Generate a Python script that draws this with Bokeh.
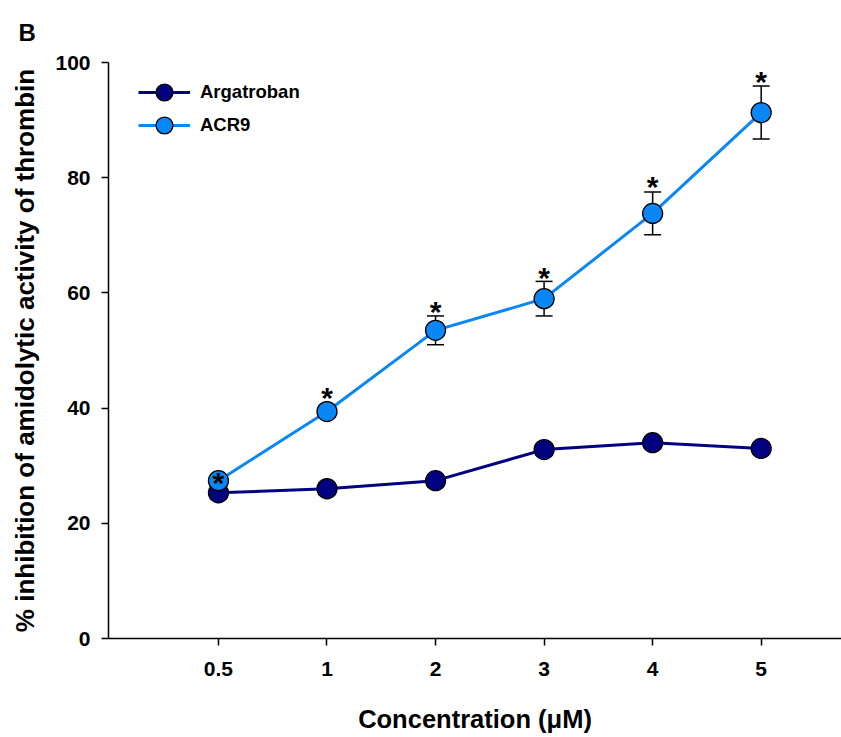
from bokeh.plotting import figure
from bokeh.models import (ColumnDataSource, Whisker, TeeHead, FixedTicker, Range1d,
                          Legend, Title)
from bokeh.core.properties import value
from bokeh.embed import file_html
from bokeh.resources import INLINE

# ---- data ----
conc_labels = ["0.5", "1", "2", "3", "4", "5"]
argatroban = [25.3, 26.0, 27.4, 32.8, 34.0, 33.0]
argatroban_err = [1.0, 1.0, 1.0, 1.0, 1.0, 1.0]
acr9 = [27.4, 39.4, 53.5, 59.0, 73.8, 91.3]
acr9_err = [1.0, 1.0, 2.5, 3.0, 3.7, 4.6]
star_y = [27.8, 42.5, 57.5, 63.4, 79.2, 97.4]
y_ticks = [0, 20, 40, 60, 80, 100]
series_names = ["Argatroban", "ACR9"]

FONT = "Liberation Sans"
NAVY = "#000080"
BLUE = "#0a87f7"

xs = list(range(len(conc_labels)))

p = figure(width=841, height=737, output_backend="svg", toolbar_location=None,
           x_range=Range1d(-1.013, 5.74), y_range=Range1d(0, 100),
           min_border_left=108, min_border_right=0, min_border_top=62,
           min_border_bottom=99)
p.outline_line_color = None
p.xgrid.visible = False
p.ygrid.visible = False

src_a = ColumnDataSource(dict(x=xs, y=argatroban,
                              lo=[v - e for v, e in zip(argatroban, argatroban_err)],
                              hi=[v + e for v, e in zip(argatroban, argatroban_err)]))
src_b = ColumnDataSource(dict(x=xs, y=acr9,
                              lo=[v - e for v, e in zip(acr9, acr9_err)],
                              hi=[v + e for v, e in zip(acr9, acr9_err)],
                              sy=star_y, t=["*"] * len(xs)))

for src in (src_a, src_b):
    w = Whisker(source=src, base="x", upper="hi", lower="lo", level="underlay",
                line_color="black", line_width=1.5,
                upper_head=TeeHead(size=17, line_color="black", line_width=1.5),
                lower_head=TeeHead(size=17, line_color="black", line_width=1.5))
    p.add_layout(w)

la = p.line("x", "y", source=src_a, line_color=NAVY, line_width=3)
ma = p.scatter("x", "y", source=src_a, size=20, fill_color=NAVY,
               line_color="black", line_width=1.3)
lb = p.line("x", "y", source=src_b, line_color=BLUE, line_width=3)
mb = p.scatter("x", "y", source=src_b, size=20, fill_color=BLUE,
               line_color="black", line_width=1.3)

p.text("x", "sy", text="t", source=src_b, text_font=value(FONT),
       text_font_style="bold", text_font_size="30px", text_align="center",
       text_baseline="middle", y_offset=4, text_color="black")

for name, rends, vy in ((series_names[0], [la, ma], 525),
                        (series_names[1], [lb, mb], 492)):
    lg = Legend(items=[(name, rends)],
                location=(30, vy), margin=0, padding=0, border_line_color=None,
                background_fill_alpha=0, glyph_width=52, glyph_height=42,
                label_height=42, spacing=0, label_standoff=10,
                label_text_font=FONT, label_text_font_style="bold",
                label_text_font_size="18.5px", label_text_color="black")
    p.add_layout(lg)

# axes
for ax in (p.xaxis, p.yaxis):
    ax.axis_line_width = 1.5
    ax.axis_line_color = "black"
    ax.major_tick_line_width = 1.5
    ax.major_tick_line_color = "black"
    ax.major_tick_in = 0
    ax.major_tick_out = 7
    ax.minor_tick_line_color = None
    ax.major_label_text_font = FONT
    ax.major_label_text_font_style = "bold"
    ax.major_label_text_font_size = "21px"
    ax.major_label_text_color = "black"
    ax.axis_label_text_font = FONT
    ax.axis_label_text_font_style = "bold"
    ax.axis_label_text_color = "black"

p.xaxis.ticker = FixedTicker(ticks=xs)
p.xaxis.major_label_overrides = {i: s for i, s in enumerate(conc_labels)}
p.xaxis.major_label_standoff = 16
p.xaxis.axis_label = "Concentration (\u03bcM)"
p.xaxis.axis_label_text_font_size = "25.5px"
p.xaxis.axis_label_standoff = 26

p.yaxis.ticker = FixedTicker(ticks=y_ticks)
p.yaxis.major_label_standoff = 11
p.yaxis.axis_label = "% inhibition of amidolytic activity of thrombin"
p.yaxis.axis_label_text_font_size = "26px"
p.yaxis.axis_label_standoff = 12

p.add_layout(Title(text="B", text_font=FONT, text_font_style="bold",
                   text_font_size="24px", text_color="black",
                   align="left", offset=-90, standoff=33), "above")

open("out.html", "w").write(file_html(p, INLINE))
